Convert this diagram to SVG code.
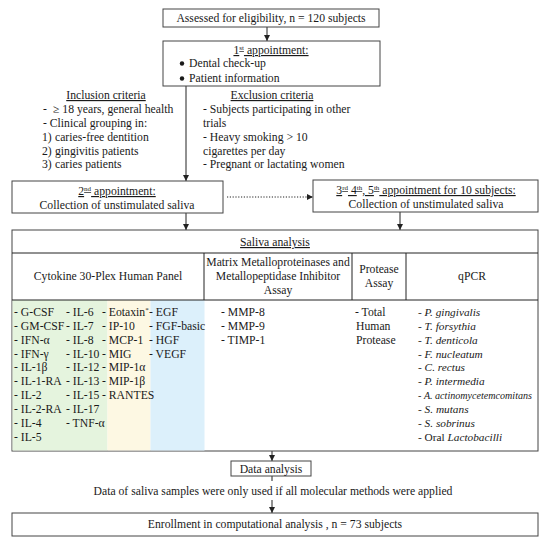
<svg xmlns="http://www.w3.org/2000/svg" width="550" height="543" viewBox="0 0 550 543">
<style>
text{font-family:"Liberation Serif","Times New Roman",serif;font-size:11.7px;fill:#1a1a1a}
.c{text-anchor:middle}
.u{text-decoration:underline}
.i{font-style:italic}
.q{font-size:11.3px}
.box{fill:#fff;stroke:#444;stroke-width:1}
.ln{stroke:#222;stroke-width:1;fill:none}
.dot{stroke:#222;stroke-width:1;stroke-dasharray:1.2 1.6;fill:none}
</style>
<defs>
<marker id="ah" viewBox="0 0 6 6" refX="6" refY="3" markerWidth="6" markerHeight="6" markerUnits="userSpaceOnUse" orient="auto">
<path d="M0,0 L6,3 L0,6 Z" fill="#222"/>
</marker>
</defs>
<rect width="550" height="543" fill="#fff"/>

<g id="connectors">
<line class="ln" x1="267" y1="27" x2="267" y2="41" marker-end="url(#ah)"/>
<line class="ln" x1="186" y1="86" x2="186" y2="181" marker-end="url(#ah)"/>
<line class="dot" x1="227" y1="197" x2="313" y2="197" marker-end="url(#ah)"/>
<line class="ln" x1="186" y1="213" x2="186" y2="230" marker-end="url(#ah)"/>
<line class="ln" x1="400" y1="212" x2="400" y2="230" marker-end="url(#ah)"/>
<line class="ln" x1="272" y1="451" x2="272" y2="461" marker-end="url(#ah)"/>
<line class="ln" x1="272" y1="476" x2="272" y2="481"/>
<line class="ln" x1="272" y1="500" x2="272" y2="513" marker-end="url(#ah)"/>
</g>

<g id="assessed">
<rect class="box" x="163" y="9" width="216" height="18"/>
<text class="c" x="271" y="22">Assessed for eligibility, n = 120 subjects</text>
</g>

<g id="first-appointment">
<rect class="box" x="163" y="41" width="217" height="45"/>
<text class="c u" x="271" y="54">1<tspan font-size="7" baseline-shift="super">st</tspan> appointment:</text>
<circle cx="182" cy="63.5" r="2.2" fill="#1a1a1a"/>
<text x="189" y="67">Dental check-up</text>
<circle cx="182" cy="78.5" r="2.2" fill="#1a1a1a"/>
<text x="189" y="82">Patient information</text>
</g>

<g id="inclusion">
<text class="c u" x="106" y="99">Inclusion criteria</text>
<text x="43" y="113">-<tspan x="53">≥ 18 years, general health</tspan></text>
<text x="43" y="127">- Clinical grouping in:</text>
<text x="42" y="141">1)<tspan x="55">caries-free dentition</tspan></text>
<text x="42" y="155">2)<tspan x="55">gingivitis patients</tspan></text>
<text x="42" y="168">3)<tspan x="55">caries patients</tspan></text>
</g>

<g id="exclusion">
<text class="c u" x="272" y="99">Exclusion criteria</text>
<text x="203" y="113">- Subjects participating in other</text>
<text x="203" y="127">trials</text>
<text x="203" y="141">- Heavy smoking &gt; 10</text>
<text x="203" y="155">cigarettes per day</text>
<text x="203" y="168">- Pregnant or lactating women</text>
</g>

<g id="second-appointment">
<rect class="box" x="12" y="181" width="211" height="32"/>
<text class="c u" x="117" y="195">2<tspan font-size="7" baseline-shift="super">nd</tspan> appointment:</text>
<text class="c" x="117" y="209">Collection of unstimulated saliva</text>
</g>

<g id="later-appointments">
<rect class="box" x="313" y="180" width="225" height="32"/>
<text class="c u" x="426" y="194">3<tspan font-size="7" baseline-shift="super">rd</tspan> 4<tspan font-size="7" baseline-shift="super">th</tspan>, 5<tspan font-size="7" baseline-shift="super">th</tspan> appointment for 10 subjects:</text>
<text class="c" x="426" y="208">Collection of unstimulated saliva</text>
</g>

<g id="saliva-analysis">
<rect class="box" x="12" y="230" width="526" height="221"/>
<rect x="12.5" y="300" width="95" height="150.5" fill="#e5f4de"/>
<rect x="107.5" y="300" width="43" height="150.5" fill="#fdf8e3"/>
<rect x="150.5" y="300" width="54" height="150.5" fill="#dcf0fb"/>
<line class="ln" x1="12" y1="253" x2="538" y2="253" stroke="#444"/>
<line class="ln" x1="12" y1="300" x2="538" y2="300" stroke="#444"/>
<line class="ln" x1="204" y1="253" x2="204" y2="300" stroke="#444"/>
<line class="ln" x1="352" y1="253" x2="352" y2="300" stroke="#444"/>
<line class="ln" x1="406" y1="253" x2="406" y2="300" stroke="#444"/>
<text class="c u" x="275" y="246">Saliva analysis</text>
<text class="c" x="108" y="280">Cytokine 30-Plex Human Panel</text>
<text class="c" x="278" y="266">Matrix Metalloproteinases and</text>
<text class="c" x="278" y="280">Metallopeptidase Inhibitor</text>
<text class="c" x="278" y="294">Assay</text>
<text class="c" x="379" y="273">Protease</text>
<text class="c" x="379" y="287">Assay</text>
<text class="c" x="472" y="280">qPCR</text>

<g id="cytokines">
<text x="14" y="316">- G-CSF</text>
<text x="14" y="330">- GM-CSF</text>
<text x="14" y="344">- IFN-α</text>
<text x="14" y="358">- IFN-γ</text>
<text x="14" y="371">- IL-1β</text>
<text x="14" y="385">- IL-1-RA</text>
<text x="14" y="399">- IL-2</text>
<text x="14" y="413">- IL-2-RA</text>
<text x="14" y="427">- IL-4</text>
<text x="14" y="441">- IL-5</text>
<text x="66" y="316">- IL-6</text>
<text x="66" y="330">- IL-7</text>
<text x="66" y="344">- IL-8</text>
<text x="66" y="358">- IL-10</text>
<text x="66" y="371">- IL-12</text>
<text x="66" y="385">- IL-13</text>
<text x="66" y="399">- IL-15</text>
<text x="66" y="413">- IL-17</text>
<text x="66" y="427">- TNF-α</text>
<text x="102" y="316">- Eotaxin<tspan font-size="7" baseline-shift="super">*</tspan></text>
<text x="102" y="330">- IP-10</text>
<text x="102" y="344">- MCP-1</text>
<text x="102" y="358">- MIG</text>
<text x="102" y="371">- MIP-1α</text>
<text x="102" y="385">- MIP-1β</text>
<text x="102" y="399">- RANTES</text>
<text x="149" y="316">- EGF</text>
<text x="149" y="330">- FGF-basic</text>
<text x="149" y="344">- HGF</text>
<text x="149" y="358">- VEGF</text>
</g>
<g id="mmp">
<text x="221" y="316">- MMP-8</text>
<text x="221" y="330">- MMP-9</text>
<text x="221" y="344">- TIMP-1</text>
</g>
<g id="protease">
<text x="355" y="316">- Total</text>
<text x="356" y="330">Human</text>
<text x="356" y="344">Protease</text>
</g>
<g id="qpcr">
<text class="q" x="418" y="316">- <tspan class="i">P. gingivalis</tspan></text>
<text class="q" x="418" y="330">- <tspan class="i">T. forsythia</tspan></text>
<text class="q" x="418" y="344">- <tspan class="i">T. denticola</tspan></text>
<text class="q" x="418" y="358">- <tspan class="i">F. nucleatum</tspan></text>
<text class="q" x="418" y="371">- <tspan class="i">C. rectus</tspan></text>
<text class="q" x="418" y="385">- <tspan class="i">P. intermedia</tspan></text>
<text class="q" x="418" y="399" textLength="114" lengthAdjust="spacingAndGlyphs">- <tspan class="i">A. actinomycetemcomitans</tspan></text>
<text class="q" x="418" y="413">- <tspan class="i">S. mutans</tspan></text>
<text class="q" x="418" y="427">- <tspan class="i">S. sobrinus</tspan></text>
<text class="q" x="418" y="441">- Oral <tspan class="i">Lactobacilli</tspan></text>
</g>
</g>

<g id="data-analysis">
<rect class="box" x="231" y="461" width="80" height="15"/>
<text class="c" x="271" y="472.5">Data analysis</text>
</g>

<g id="note">
<text class="c" x="273" y="495">Data of saliva samples were only used if all molecular methods were applied</text>
</g>

<g id="enrollment">
<rect class="box" x="12" y="513" width="526" height="23"/>
<text class="c" x="275" y="528">Enrollment in computational analysis , n = 73 subjects</text>
</g>
</svg>
